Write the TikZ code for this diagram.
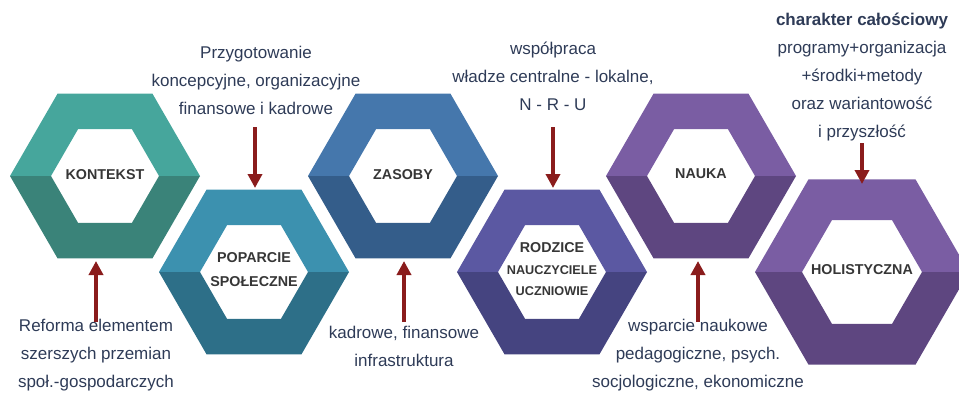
\documentclass[tikz,border=0pt]{standalone}
\usepackage{fontspec}
\setmainfont{Liberation Sans}
\usetikzlibrary{arrows.meta}

\definecolor{tealup}{HTML}{46A69C}
\definecolor{tealdn}{HTML}{3A8379}
\definecolor{cyanup}{HTML}{3C91AF}
\definecolor{cyandn}{HTML}{2D6F88}
\definecolor{blueup}{HTML}{4577AC}
\definecolor{bluedn}{HTML}{345D8A}
\definecolor{indigoup}{HTML}{5B58A2}
\definecolor{indigodn}{HTML}{454480}
\definecolor{violetup}{HTML}{7A5DA3}
\definecolor{violetdn}{HTML}{5E4680}
\definecolor{notenavy}{HTML}{2E3B57}
\definecolor{labelgray}{HTML}{363636}
\definecolor{arrowred}{HTML}{8A1C1C}

\begin{document}
\begin{tikzpicture}[x=1pt,y=-1pt,
    lbl/.style={font=\bfseries\fontsize{14.3}{24}\selectfont,text=labelgray,align=center},
    note/.style={font=\fontsize{17}{28}\selectfont,text=notenavy,align=center},
    push/.style={draw=arrowred,line width=4pt,-{Triangle[length=14pt,width=14pt]}},
    pics/hexring/.style n args={4}{code={
      \fill[#3] (-#1,0) -- ({-#1/2},{-0.866*#1}) -- ({#1/2},{-0.866*#1}) -- (#1,0)
        -- (#2,0) -- ({#2/2},{-0.866*#2}) -- ({-#2/2},{-0.866*#2}) -- (-#2,0) -- cycle;
      \fill[#4] (-#1,0) -- ({-#1/2},{0.866*#1}) -- ({#1/2},{0.866*#1}) -- (#1,0)
        -- (#2,0) -- ({#2/2},{0.866*#2}) -- ({-#2/2},{0.866*#2}) -- (-#2,0) -- cycle;
    }}]
\useasboundingbox (0,0) rectangle (959,392);
\clip (0,0) rectangle (959,392);

% hexagon rings
\pic at (105,176) {hexring={95}{54}{tealup}{tealdn}};
\pic at (403,176) {hexring={95}{54}{blueup}{bluedn}};
\pic at (701,176) {hexring={95}{54}{violetup}{violetdn}};
\pic at (254,272) {hexring={95}{54}{cyanup}{cyandn}};
\pic at (552,272) {hexring={95}{54}{indigoup}{indigodn}};
\pic at (862,272) {hexring={107}{60}{violetup}{violetdn}};

% labels inside
\node[lbl] (kontekst) at (105,175) {KONTEKST};
\node[lbl] (zasoby) at (403,175) {ZASOBY};
\node[lbl] (nauka) at (701,174) {NAUKA};
\node[lbl] (poparcie) at (254,270) {POPARCIE\\SPOŁECZNE};
\node[lbl] (rodzice) at (552,269) {RODZICE\\[-2pt]{\fontsize{12.7}{21}\selectfont NAUCZYCIELE}\\[-3pt]{\fontsize{12.7}{21}\selectfont UCZNIOWIE}};
\node[lbl] (holistyczna) at (862,270) {HOLISTYCZNA};

% notes
\node[note] (przygotowanie) at (256,80) {Przygotowanie\\koncepcyjne, organizacyjne\\finansowe i kadrowe};
\node[note] (wspolpraca) at (553,76) {współpraca\\władze centralne - lokalne,\\N - R - U};
\node[note] (calosc) at (862,77) {\textbf{charakter całościowy}\\programy+organizacja\\+środki+metody\\oraz wariantowość\\i przyszłość};
\node[note] (reforma) at (96,355) {Reforma elementem\\szerszych przemian\\społ.-gospodarczych};
\node[note] (kadry) at (404,346) {kadrowe, finansowe\\infrastruktura};
\node[note] (wsparcie) at (698,355) {wsparcie naukowe\\pedagogiczne, psych.\\socjologiczne, ekonomiczne};

% arrow ends
\coordinate (przyg-end) at (255,127);
\coordinate (poparcie-top) at (255,188);
\coordinate (wspol-end) at (553,127);
\coordinate (rodzice-top) at (553,188);
\coordinate (calosc-end) at (862,143);
\coordinate (holi-top) at (862,184);
\coordinate (reforma-end) at (96,322);
\coordinate (kontekst-bot) at (96,261);
\coordinate (kadry-end) at (404,322);
\coordinate (zasoby-bot) at (404,261);
\coordinate (wsparcie-end) at (698,322);
\coordinate (nauka-bot) at (698,261);

\draw[push] (przyg-end) -- (poparcie-top);
\draw[push] (wspol-end) -- (rodzice-top);
\draw[push] (calosc-end) -- (holi-top);
\draw[push] (reforma-end) -- (kontekst-bot);
\draw[push] (kadry-end) -- (zasoby-bot);
\draw[push] (wsparcie-end) -- (nauka-bot);
\end{tikzpicture}
\end{document}
